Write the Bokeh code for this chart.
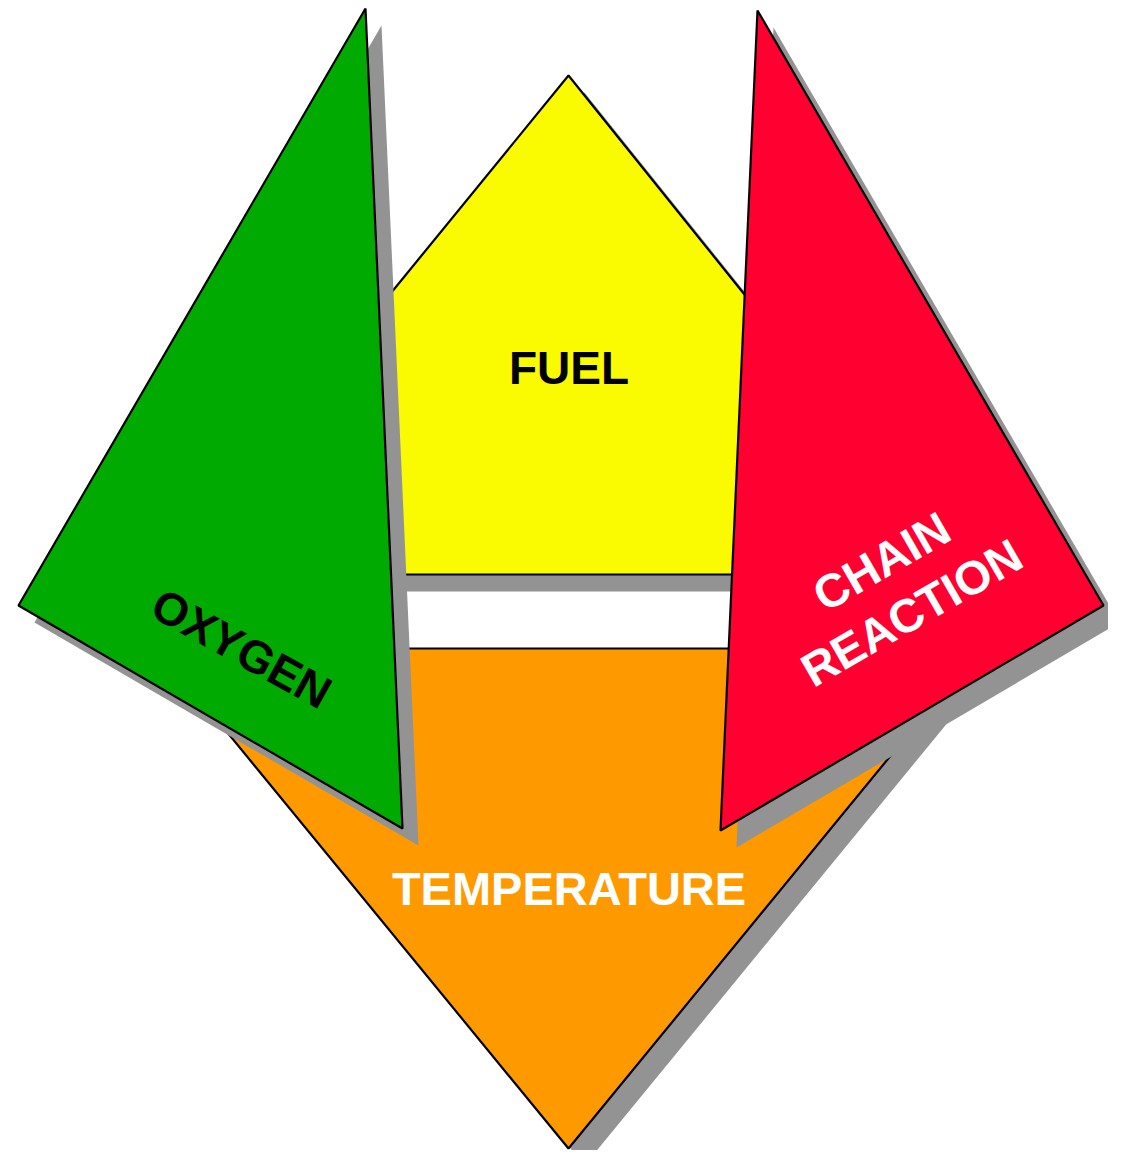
import math
from bokeh.plotting import figure
from bokeh.models import Range1d
from bokeh.core.properties import value
from bokeh.embed import file_html
from bokeh.resources import INLINE

# ---- data: polygon vertices in picture pixel coordinates ----
oxygen_x = [365, 18, 402]
oxygen_y = [8, 605, 828]

fuel_x = [568, 752, 752, 386, 386]
fuel_y = [75, 304, 574, 574, 298]

temp_x = [158, 978, 568]
temp_y = [648, 648, 1148]

chain_x = [757, 1103, 720]
chain_y = [10, 605, 830]

shadow_dx = 16
shadow_dy = 17

labels = ["FUEL", "TEMPERATURE", "OXYGEN", "CHAIN", "REACTION"]
label_x = [568.5, 568.5, 241, 881, 911]
label_y = [367, 888, 648, 561, 612]
label_angle_deg = [0, 0, -29, 30, 30]
label_color = ["black", "white", "black", "white", "white"]
label_size = ["46px", "47px", "46px", "47px", "47px"]

GREEN = "#00AA00"
YELLOW = "#FAFA00"
ORANGE = "#FF9900"
RED = "#FF0030"
GRAY = "#939393"

p = figure(width=1108, height=1150, output_backend="svg", toolbar_location=None,
           x_range=Range1d(0, 1108), y_range=Range1d(1150, 0),
           x_axis_location=None, y_axis_location=None, min_border=0)
p.grid.visible = False
p.outline_line_color = None
p.background_fill_color = "white"
p.border_fill_color = "white"


def shape(xs, ys, color):
    p.patch([x + shadow_dx for x in xs], [y + shadow_dy for y in ys],
            fill_color=GRAY, line_color=None)
    p.patch(xs, ys, fill_color=color, line_color="black", line_width=2.2)


shape(temp_x, temp_y, ORANGE)
shape(fuel_x, fuel_y, YELLOW)
shape(oxygen_x, oxygen_y, GREEN)
shape(chain_x, chain_y, RED)

for t, x, y, a, c, s in zip(labels, label_x, label_y, label_angle_deg, label_color, label_size):
    p.text(x=[x], y=[y], text=[t], angle=math.radians(a),
           text_align="center", text_baseline="middle",
           text_font=value("Liberation Sans"), text_font_style="bold",
           text_font_size=value(s), text_color=c)

open("out.html", "w").write(file_html(p, INLINE))
